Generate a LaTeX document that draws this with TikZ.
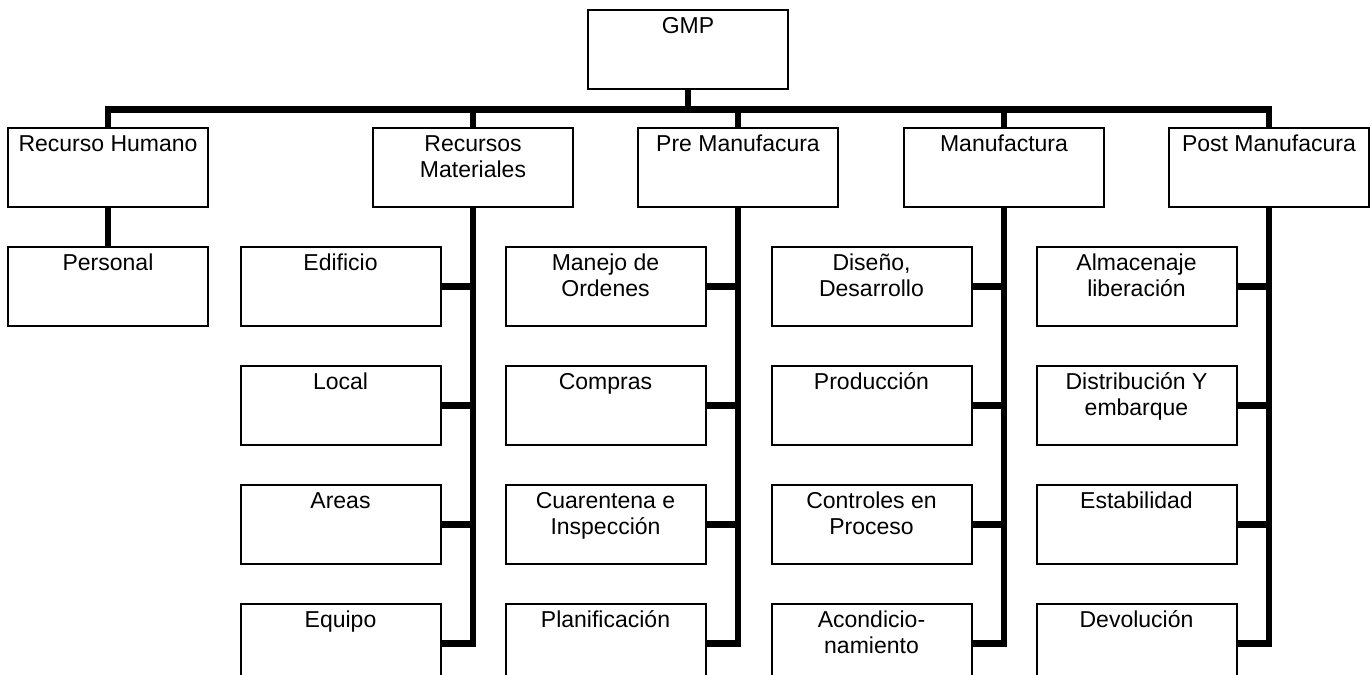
\documentclass[tikz,border=0pt]{standalone}
\usepackage{fontspec}
\setmainfont{Liberation Sans}
\usetikzlibrary{positioning}

\begin{document}
\begin{tikzpicture}[x=0.5pt, y=-0.5pt, node distance=19.25pt, font=\fontsize{11.5}{13}\selectfont]
\tikzstyle{box}=[draw=black, line width=1pt, rectangle, inner sep=0pt, minimum width=100pt, minimum height=39.25pt, execute at begin node={\begin{minipage}[c][39.25pt][t]{100pt}\centering\rule{0pt}{11.6pt}}, execute at end node={\end{minipage}}]
\tikzstyle{trunk}=[draw=black, line width=3.3pt]

\useasboundingbox (0,0) rectangle (1372,675);

\node[box] (gmp) at (688,49.25) {GMP};

\node[box] (rh) at (108,167.25) {Recurso Humano};
\node[box] (rm) at (473,167.25) {Recursos\\Materiales};
\node[box] (pre) at (738,167.25) {Pre Manufacura};
\node[box] (man) at (1004,167.25) {Manufactura};
\node[box] (post) at (1269,167.25) {Post Manufacura};

\node[box, below=of rh] (pers) {Personal};

\node[box, below=of rm, xshift=-66.25pt] (rm1) {Edificio};
\node[box, below=of rm1] (rm2) {Local};
\node[box, below=of rm2] (rm3) {Areas};
\node[box, below=of rm3] (rm4) {Equipo};

\node[box, below=of pre, xshift=-66.25pt] (pre1) {Manejo de\\Ordenes};
\node[box, below=of pre1] (pre2) {Compras};
\node[box, below=of pre2] (pre3) {Cuarentena e\\Inspección};
\node[box, below=of pre3] (pre4) {Planificación};

\node[box, below=of man, xshift=-66.25pt] (man1) {Diseño,\\Desarrollo};
\node[box, below=of man1] (man2) {Producción};
\node[box, below=of man2] (man3) {Controles en\\Proceso};
\node[box, below=of man3] (man4) {Acondicio-\\namiento};

\node[box, below=of post, xshift=-66.25pt] (post1) {Almacenaje\\liberación};
\node[box, below=of post1] (post2) {Distribución Y\\embarque};
\node[box, below=of post2] (post3) {Estabilidad};
\node[box, below=of post3] (post4) {Devolución};

% bus under GMP
\foreach \n in {rh,rm,pre,man,post}
  \draw[trunk] (gmp.south) -- ++(0,-9.9pt) -| (\n.north);
\draw[trunk] (rh) -- (pers);

\foreach \p in {rm,pre,man,post}{
  \draw[trunk] (\p.south) |- (\p4.east);
  \foreach \i in {1,2,3}
    \draw[trunk] (\p\i.east) -- (\p\i.east -| \p.south);
}
\end{tikzpicture}
\end{document}
